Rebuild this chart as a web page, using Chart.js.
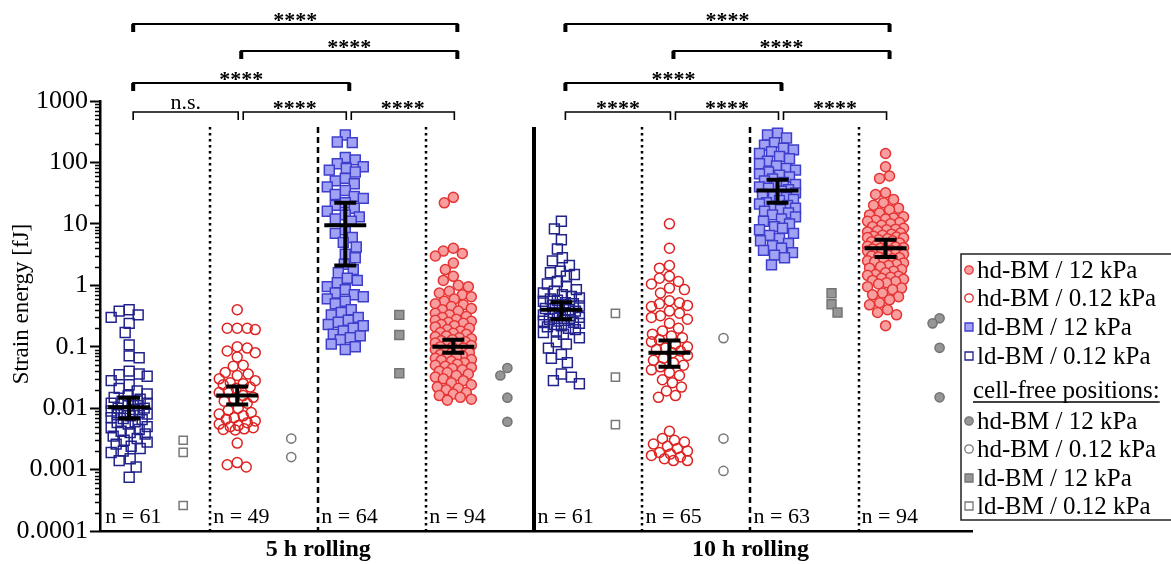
<!DOCTYPE html>
<html>
<head>
<meta charset="utf-8">
<title>Strain energy</title>
<script src="https://cdn.jsdelivr.net/npm/chart.js@4/dist/chart.umd.min.js"></script>
<style>
  html, body { margin: 0; padding: 0; background: #fff; }
</style>
</head>
<body>
<canvas id="strainChart" width="1171" height="564"></canvas>
<script>
'use strict';

// panels under the x axis, four columns each
const panels = ['5 h rolling', '10 h rolling'];
const yTitle = 'Strain energy [fJ]';

// strain energy [fJ] per column, left to right
const ld012_5h = [0.40, 0.38, 0.33, 0.30, 0.24, 0.17,
  0.107, 0.071, 0.066,
  0.040, 0.036, 0.035, 0.033, 0.028,
  0.024, 0.021,
  0.019, 0.017, 0.016, 0.015, 0.014, 0.013, 0.013, 0.012, 0.012, 0.011,
  0.011, 0.010, 0.010, 0.0095, 0.009, 0.0088, 0.0085, 0.008, 0.0078, 0.0075,
  0.007, 0.0068, 0.0065, 0.006, 0.0058, 0.0055, 0.005, 0.0048, 0.0045, 0.0042,
  0.004, 0.0038, 0.0035, 0.0032, 0.003, 0.0028, 0.0026, 0.0024, 0.0022, 0.002,
  0.0019,
  0.0015, 0.0014, 0.0011, 0.00075];
const hd012_5h = [0.40,
  0.20, 0.20, 0.19, 0.20,
  0.10, 0.095, 0.085, 0.08, 0.068,
  0.05, 0.048,
  0.038, 0.036, 0.034,
  0.030, 0.028, 0.026, 0.025, 0.024, 0.022, 0.021,
  0.019, 0.018, 0.016, 0.015, 0.014, 0.013, 0.012,
  0.010, 0.0092, 0.0085, 0.008, 0.0075, 0.007, 0.0066, 0.0062, 0.0058, 0.0055, 0.0052, 0.005, 0.0048, 0.0046, 0.0045, 0.0044,
  0.0027, 0.0013, 0.0012, 0.0011];
const ld12_5h = [280, 215, 210,
  120, 110, 95, 85, 80, 75, 70,
  55, 50, 45, 40, 35, 30, 28, 26,
  22, 20, 18, 16, 14, 13, 12, 11,
  8, 7, 6, 5, 4.2,
  3.2, 2.8, 2.2, 1.8, 1.6,
  1.3, 1.2, 1.1, 0.95, 0.85, 0.75, 0.7, 0.65, 0.6, 0.55, 0.5,
  0.4, 0.36, 0.33, 0.3, 0.27, 0.25, 0.23, 0.22, 0.2, 0.18, 0.16, 0.15, 0.14, 0.13,
  0.11, 0.1, 0.09];
const hd12_5h = [27, 22,
  4.0, 3.6, 3.3, 3.0,
  2.3, 1.8,
  1.4, 1.2, 1.0, 0.95,
  0.8, 0.75, 0.7, 0.65, 0.6, 0.55, 0.5, 0.48,
  0.45, 0.42, 0.4, 0.38, 0.35, 0.33, 0.31, 0.3, 0.28, 0.27, 0.26, 0.25, 0.24, 0.23, 0.22, 0.21, 0.2,
  0.19, 0.18, 0.17, 0.165, 0.16, 0.15, 0.145, 0.14, 0.135, 0.13, 0.125, 0.12, 0.115, 0.11, 0.11, 0.105, 0.1,
  0.098, 0.095, 0.09, 0.088, 0.085, 0.08, 0.078, 0.075, 0.072, 0.07, 0.068, 0.065, 0.062, 0.06, 0.058, 0.055,
  0.052, 0.05, 0.048, 0.046, 0.044, 0.042, 0.04, 0.038, 0.036, 0.034, 0.032, 0.03,
  0.028, 0.026, 0.024, 0.022, 0.021, 0.02, 0.018, 0.017, 0.016, 0.015, 0.014, 0.0135];
const ld012_10h = [11, 8.3, 5.5, 3.9,
  2.8, 2.5, 2.1,
  1.7, 1.6, 1.5, 1.4,
  1.15, 1.05, 0.95, 0.85, 0.8, 0.75,
  0.7, 0.66, 0.62, 0.6, 0.57, 0.55, 0.52, 0.5, 0.48, 0.46, 0.44, 0.42, 0.4, 0.38, 0.36, 0.35,
  0.33, 0.32, 0.3, 0.29, 0.28, 0.27, 0.26, 0.25, 0.24, 0.23, 0.22, 0.21, 0.2, 0.19, 0.18, 0.17, 0.16,
  0.14, 0.12, 0.11, 0.095,
  0.075, 0.065, 0.055,
  0.036, 0.032, 0.028, 0.025];
const hd012_10h = [10, 4,
  2.1, 1.9,
  1.4, 1.3, 1.15, 1.05,
  0.9, 0.85, 0.75,
  0.56, 0.52, 0.5, 0.47, 0.45,
  0.38, 0.35, 0.32, 0.3, 0.28, 0.24,
  0.2, 0.18, 0.16, 0.15, 0.14, 0.13, 0.12,
  0.11, 0.1, 0.095, 0.09, 0.085, 0.08, 0.072, 0.065, 0.06, 0.055, 0.05, 0.047,
  0.042, 0.038, 0.034, 0.029,
  0.026, 0.022, 0.019, 0.016, 0.015,
  0.0042,
  0.0032, 0.003, 0.0028, 0.0026, 0.0024, 0.0022, 0.002, 0.0019, 0.0018, 0.0017, 0.0016, 0.0015, 0.0014, 0.0014];
const ld12_10h = [300, 280, 250,
  210, 190, 170, 160, 150, 140,
  125, 115, 105, 95, 88, 80, 75, 70, 65,
  62, 58, 54, 50, 47, 44, 42, 40, 38, 36,
  34, 32, 30, 28, 27, 25, 24, 22, 21, 20, 19, 18, 17, 16,
  15, 14, 13, 12, 11, 10, 9, 8.5, 8, 7,
  6.5, 5.8, 5.3, 4.8, 4.4, 4.0, 3.7, 3.4, 3.1,
  2.8, 2.15];
const hd12_10h = [140, 85, 60, 55,
  32, 30, 25, 22, 20, 18, 17,
  15, 14, 13, 12.5, 12, 11.5, 11, 10.5, 10, 9.5, 9,
  8.5, 8.2, 8, 7.7, 7.4, 7.1, 6.8, 6.5, 6.3, 6.1, 6.0, 5.9, 5.7, 5.5, 5.3, 5.1, 4.9, 4.7, 4.5, 4.4, 4.3, 4.2, 4.1, 4.0, 3.9, 3.8,
  3.7, 3.65, 3.6, 3.5, 3.4, 3.3, 3.2, 3.1, 3.0, 2.9, 2.8, 2.7, 2.6, 2.5, 2.4, 2.3, 2.2, 2.1, 2.0, 1.9,
  1.8, 1.7, 1.6, 1.5, 1.45, 1.4, 1.35, 1.3, 1.25, 1.2, 1.15, 1.1,
  1.05, 0.95, 0.9, 0.85, 0.75, 0.7, 0.65, 0.58, 0.52, 0.48,
  0.4, 0.36, 0.33,
  0.22];

// cell-free positions, same column order
const free_ld012_5h = [0.0030, 0.0019, 0.00026];
const free_hd012_5h = [0.0032, 0.0016];
const free_ld12_5h = [0.33, 0.155, 0.037];
const free_hd12_5h = [0.045, 0.034, 0.0148, 0.006];
const free_ld012_10h = [0.35, 0.032, 0.0054];
const free_hd012_10h = [0.138, 0.0032, 0.00095];
const free_ld12_10h = [0.74, 0.49, 0.36];
const free_hd12_10h = [0.29, 0.24, 0.096, 0.015];

const cellValues = [ld012_5h, hd012_5h, ld12_5h, hd12_5h, ld012_10h, hd012_10h, ld12_10h, hd12_10h];
const freeValues = [free_ld012_5h, free_hd012_5h, free_ld12_5h, free_hd12_5h,
  free_ld012_10h, free_hd012_10h, free_ld12_10h, free_hd12_10h];
const cellTypes = ['ld012', 'hd012', 'ld12', 'hd12', 'ld012', 'hd012', 'ld12', 'hd12'];

// mean and error bar ends per column
const means = [0.0103, 0.016, 9.5, 0.10, 0.40, 0.08, 35, 4.0];
const barLow = [0.0068, 0.0115, 2.1, 0.08, 0.28, 0.047, 22, 2.9];
const barHigh = [0.0148, 0.0225, 22, 0.13, 0.53, 0.126, 52, 5.5];

// significance brackets: from column, to column, level, label
const comparisons = [
  [0, 3, 4, '****'], [1, 3, 3, '****'], [0, 2, 2, '****'],
  [0, 1, 1, 'n.s.'], [1, 2, 1, '****'], [2, 3, 1, '****'],
  [4, 7, 4, '****'], [5, 7, 3, '****'], [4, 6, 2, '****'],
  [4, 5, 1, '****'], [5, 6, 1, '****'], [6, 7, 1, '****']
];

const yTicks = [0.0001, 0.001, 0.01, 0.1, 1, 10, 100, 1000];
const yTickLabels = ['0.0001', '0.001', '0.01', '0.1', '1', '10', '100', '1000'];

const typeLabels = {
  hd12: 'hd-BM / 12 kPa',
  hd012: 'hd-BM / 0.12 kPa',
  ld12: 'ld-BM / 12 kPa',
  ld012: 'ld-BM / 0.12 kPa'
};
const legendOrder = ['hd12', 'hd012', 'ld12', 'ld012'];

const mainStyle = {
  hd12: {shape: 'circle', fill: 'rgb(249,158,158)', stroke: 'rgb(230,52,52)', r: 5},
  hd012: {shape: 'circle', fill: 'rgba(255,255,255,0)', stroke: 'rgb(222,34,34)', r: 5},
  ld12: {shape: 'rect', fill: 'rgb(162,162,245)', stroke: 'rgb(62,62,205)', r: 7},
  ld012: {shape: 'rect', fill: 'rgba(255,255,255,0)', stroke: 'rgb(34,34,140)', r: 7}
};
const freeStyle = {
  hd12: {shape: 'circle', fill: 'rgb(150,150,150)', stroke: 'rgb(115,115,115)', r: 4.6},
  hd012: {shape: 'circle', fill: 'rgb(255,255,255)', stroke: 'rgb(120,120,120)', r: 4.6},
  ld12: {shape: 'rect', fill: 'rgb(150,150,150)', stroke: 'rgb(115,115,115)', r: 6.3},
  ld012: {shape: 'rect', fill: 'rgb(255,255,255)', stroke: 'rgb(120,120,120)', r: 5.8}
};

function points(source, type, shift) {
  let pts = [];
  source.forEach((vals, c) => {
    if (cellTypes[c] !== type) return;
    vals.forEach(v => pts.push({x: c + shift, y: v, cell: c}));
  });
  return pts;
}

function makeDataset(label, type, style, source, shift, gap, half) {
  return {
    label: label,
    data: points(source, type, shift),
    shift: shift,
    gap: gap,
    half: half,
    pointStyle: style.shape,
    pointRadius: style.r,
    pointHoverRadius: style.r,
    backgroundColor: style.fill,
    borderColor: style.stroke,
    borderWidth: 1.5
  };
}

let datasets = [];
legendOrder.forEach(t => datasets.push(makeDataset(typeLabels[t], t, mainStyle[t], cellValues, 0, 10, 18)));
legendOrder.forEach(t => datasets.push(makeDataset('cell-free ' + typeLabels[t], t, freeStyle[t], freeValues, 0.5, 10, 7)));

// beeswarm: keep points near the column centre, overlap only when the column is full
function swarm(ys, gap, half) {
  let order = ys.map((y, i) => i).sort((a, b) => ys[a] - ys[b]);
  let placed = [];
  let out = new Array(ys.length).fill(0);
  order.forEach((i, k) => {
    let best = 0, bestScore = -Infinity;
    let sign = k % 2 ? -1 : 1;
    for (let s = 0; s <= half; s++) {
      for (const x of (s ? [sign * s, -sign * s] : [0])) {
        let near = gap;
        placed.forEach(p => {
          let d = Math.hypot(p.x - x, p.y - ys[i]);
          if (d < near) near = d;
        });
        let score = near - Math.abs(x) * 0.002;
        if (score > bestScore) { bestScore = score; best = x; }
      }
    }
    placed.push({x: best, y: ys[i]});
    out[i] = best;
  });
  return out;
}

function spread(chart) {
  let xs = chart.scales.x, ys = chart.scales.y;
  let unit = xs.getPixelForValue(1) - xs.getPixelForValue(0);
  chart.data.datasets.forEach(ds => {
    let byCell = {};
    ds.data.forEach(p => (byCell[p.cell] = byCell[p.cell] || []).push(p));
    let moved = [];
    Object.values(byCell).forEach(pts => {
      let offs = swarm(pts.map(p => ys.getPixelForValue(p.y)), ds.gap, ds.half);
      pts.forEach((p, i) => moved.push({x: p.cell + ds.shift + offs[i] / unit, y: p.y, cell: p.cell}));
    });
    ds.data = moved;
  });
  chart.update('none');
}

function drawMark(ctx, style, x, y, r) {
  ctx.beginPath();
  if (style.shape === 'rect') {
    ctx.rect(x - r, y - r, 2 * r, 2 * r);
  } else {
    ctx.arc(x, y, r, 0, Math.PI * 2);
  }
  ctx.fillStyle = style.fill;
  ctx.fill();
  ctx.lineWidth = 1.3;
  ctx.strokeStyle = style.stroke;
  ctx.stroke();
}

const serif = '"Liberation Serif", "Times New Roman", serif';

const decorations = {
  id: 'decorations',
  beforeDatasetsDraw(chart) {
    let {ctx, chartArea} = chart;
    let xs = chart.scales.x;
    ctx.save();
    ctx.strokeStyle = '#000';
    // column separators
    for (let c = 1; c < cellValues.length; c++) {
      let x = Math.round(xs.getPixelForValue(c - 0.25));
      ctx.beginPath();
      if (c % 4 === 0) {
        ctx.lineWidth = 4;
        ctx.setLineDash([]);
      } else if (c % 2 === 0) {
        ctx.lineWidth = 2.5;
        ctx.setLineDash([6, 4]);
      } else {
        ctx.lineWidth = 2.5;
        ctx.setLineDash([2.5, 3.5]);
      }
      ctx.moveTo(x, chartArea.top + 26);
      ctx.lineTo(x, chartArea.bottom);
      ctx.stroke();
    }
    ctx.setLineDash([]);
    // sample sizes
    ctx.fillStyle = '#000';
    ctx.font = '22px ' + serif;
    ctx.textAlign = 'left';
    ctx.textBaseline = 'alphabetic';
    cellValues.forEach((vals, c) => {
      let x = Math.max(xs.getPixelForValue(c - 0.25), chartArea.left) + 3;
      ctx.fillText('n = ' + vals.length, x, chartArea.bottom - 8);
    });
    ctx.restore();
  },
  afterDatasetsDraw(chart) {
    let {ctx} = chart;
    let xs = chart.scales.x, ys = chart.scales.y;
    ctx.save();
    ctx.strokeStyle = '#000';
    ctx.lineWidth = 4;
    means.forEach((m, c) => {
      let x = xs.getPixelForValue(c);
      let ym = ys.getPixelForValue(m);
      let y1 = ys.getPixelForValue(barLow[c]);
      let y2 = ys.getPixelForValue(barHigh[c]);
      ctx.beginPath();
      ctx.moveTo(x - 21, ym); ctx.lineTo(x + 21, ym);
      ctx.moveTo(x, y1); ctx.lineTo(x, y2);
      ctx.moveTo(x - 11, y1); ctx.lineTo(x + 11, y1);
      ctx.moveTo(x - 11, y2); ctx.lineTo(x + 11, y2);
      ctx.stroke();
    });
    ctx.restore();
  },
  afterDraw(chart) {
    let {ctx, chartArea} = chart;
    let xs = chart.scales.x, ys = chart.scales.y;
    ctx.save();
    ctx.strokeStyle = '#000';
    ctx.fillStyle = '#000';

    // y axis title, rotated
    ctx.save();
    ctx.translate(22, 304);
    ctx.rotate(-Math.PI / 2);
    ctx.font = '23px ' + serif;
    ctx.textAlign = 'center';
    ctx.textBaseline = 'middle';
    ctx.fillText(yTitle, 0, 0);
    ctx.restore();

    // minor ticks of the log axis
    ctx.lineWidth = 1.5;
    ctx.beginPath();
    for (let e = -4; e < 3; e++) {
      for (let k = 2; k < 10; k++) {
        let y = Math.round(ys.getPixelForValue(k * Math.pow(10, e))) + 0.5;
        ctx.moveTo(chartArea.left - 5, y);
        ctx.lineTo(chartArea.left, y);
      }
    }
    ctx.stroke();

    // significance brackets
    let levelY = {1: 112, 2: 83, 3: 51, 4: 24};
    ctx.textAlign = 'center';
    ctx.textBaseline = 'alphabetic';
    comparisons.forEach(([a, b, lvl, text]) => {
      let y = levelY[lvl];
      let x1 = xs.getPixelForValue(a) + 4;
      let x2 = xs.getPixelForValue(b) + 4;
      if (lvl === 1) {
        if (a % 4 !== 0) x1 += 2;
        x2 -= 3;
      }
      ctx.lineWidth = lvl === 1 ? 1.6 : 2;
      ctx.beginPath();
      ctx.moveTo(x1, y + 8);
      ctx.lineTo(x1, y);
      ctx.lineTo(x2, y);
      ctx.lineTo(x2, y + 8);
      ctx.stroke();
      if (lvl > 1) {
        ctx.fillRect(x1 - 2, y, 4, 8);
        ctx.fillRect(x2 - 2, y, 4, 8);
      }
      if (text === 'n.s.') {
        ctx.font = '22px ' + serif;
        ctx.fillText(text, (x1 + x2) / 2, y - 3);
      } else {
        ctx.font = 'bold 22px ' + serif;
        ctx.fillText(text, (x1 + x2) / 2, y + 3);
      }
    });

    // legend box
    let box = {x: 961, y: 254, w: 215, h: 266};
    ctx.fillStyle = '#fff';
    ctx.fillRect(box.x, box.y, box.w, box.h);
    ctx.lineWidth = 1.5;
    ctx.strokeStyle = '#222';
    ctx.strokeRect(box.x, box.y, box.w, box.h);
    let rows = [270, 298, 327, 356];
    let freeRows = [421, 449, 478, 506];
    ctx.font = '25px ' + serif;
    ctx.textAlign = 'left';
    ctx.textBaseline = 'middle';
    legendOrder.forEach((t, i) => {
      let ms = mainStyle[t];
      drawMark(ctx, ms, 969, rows[i], ms.shape === 'rect' ? 4 : 4.2);
      ctx.fillStyle = '#000';
      ctx.fillText(typeLabels[t], 977, rows[i] + 1);
      let fs = freeStyle[t];
      drawMark(ctx, fs, 969, freeRows[i], fs.shape === 'rect' ? 4 : 4.2);
      ctx.fillStyle = '#000';
      ctx.fillText(typeLabels[t], 977, freeRows[i] + 1);
    });
    let head = 'cell-free positions:';
    ctx.fillText(head, 973, 391);
    let w = ctx.measureText(head).width;
    ctx.lineWidth = 1.3;
    ctx.strokeStyle = '#000';
    ctx.beginPath();
    ctx.moveTo(973, 402);
    ctx.lineTo(973 + w, 402);
    ctx.stroke();
    ctx.restore();
  }
};

Chart.defaults.font.family = serif;
Chart.defaults.color = '#000';

let ctx = document.getElementById('strainChart').getContext('2d');

let chart = new Chart(ctx, {
  type: 'scatter',
  data: {datasets: datasets},
  options: {
    responsive: false,
    animation: false,
    layout: {padding: {left: 0, top: 101, right: 199, bottom: 0}},
    plugins: {legend: {display: false}, tooltip: {enabled: false}},
    scales: {
      x: {
        type: 'linear',
        min: -0.27,
        max: 7.8,
        afterBuildTicks: s => { s.ticks = panels.map((p, i) => ({value: i * 4 + 1.75})); },
        afterFit: s => { s.height = 33; },
        ticks: {
          callback: (v, i) => panels[i],
          font: {size: 24, weight: 'bold'},
          padding: 4,
          maxRotation: 0,
          autoSkip: false
        },
        grid: {display: false, drawTicks: false},
        border: {display: true, color: '#000', width: 2.5}
      },
      y: {
        type: 'logarithmic',
        min: 0.0001,
        max: 1000,
        afterBuildTicks: s => { s.ticks = yTicks.map(v => ({value: v})); },
        afterFit: s => { s.width = 100; },
        ticks: {
          callback: (v, i) => yTickLabels[i],
          font: {size: 26},
          padding: 2
        },
        grid: {drawOnChartArea: false, tickLength: 10, tickWidth: 2, tickColor: '#000'},
        border: {display: true, color: '#000', width: 2.5}
      }
    }
  },
  plugins: [decorations]
});

spread(chart);
</script>
</body>
</html>
